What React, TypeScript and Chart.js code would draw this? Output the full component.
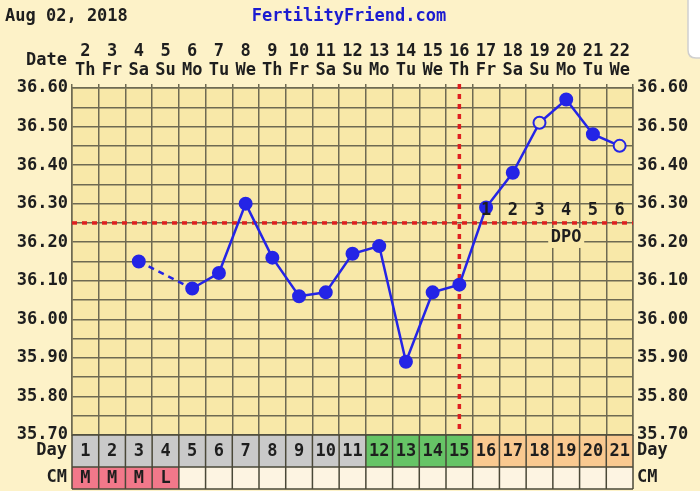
import React, { useEffect, useRef } from 'react';
import { Chart, registerables } from 'chart.js';

Chart.register(...registerables);

// ---------- data ----------
const headerDate = 'Aug 02, 2018';
const headerSite = 'FertilityFriend.com';
const cycleDays = [1, 2, 3, 4, 5, 6, 7, 8, 9, 10, 11, 12, 13, 14, 15, 16, 17, 18, 19, 20, 21];
const dates = ['2', '3', '4', '5', '6', '7', '8', '9', '10', '11', '12', '13', '14', '15', '16', '17', '18', '19', '20', '21', '22'];
const weekdays = ['Th', 'Fr', 'Sa', 'Su', 'Mo', 'Tu', 'We', 'Th', 'Fr', 'Sa', 'Su', 'Mo', 'Tu', 'We', 'Th', 'Fr', 'Sa', 'Su', 'Mo', 'Tu', 'We'];
const temps: (number | null)[] = [
  null, null, 36.15, null, 36.08, 36.12, 36.30, 36.16, 36.06, 36.07, 36.17,
  36.19, 35.89, 36.07, 36.09, 36.29, 36.38, 36.51, 36.57, 36.48, 36.45,
];
const openCircleDays = [18, 21];
const cmValues = ['M', 'M', 'M', 'L', '', '', '', '', '', '', '', '', '', '', '', '', '', '', '', '', ''];
const fertileDays = [12, 13, 14, 15];
const coverline = 36.25;
const ovulationDay = 15;
const yMin = 35.7;
const yMax = 36.6;

// ---------- styles ----------
const PAGE_BG = '#fdf2c8';
const PLOT_BG = '#f8e8a8';
const GRID = '#6e6a52';
const TEXT = '#1e1e1e';
const BLUE = '#2424e6';
const RED = '#dd2020';
const FAMILY = '"DejaVu Sans Mono", "Liberation Mono", monospace';
const FONT = `bold 17px ${FAMILY}`;

const tickCb = (v: any) => {
  const n = Math.round(Number(v) * 100);
  return n % 10 === 0 ? (n / 100).toFixed(2) : '';
};

const decor = {
  id: 'ffDecor',
  beforeDraw(chart: any) {
    const { ctx, chartArea: a, width, height } = chart;
    ctx.save();
    ctx.fillStyle = PAGE_BG;
    ctx.fillRect(0, 0, width, height);
    ctx.fillStyle = PLOT_BG;
    ctx.fillRect(a.left, a.top, a.right - a.left, a.bottom - a.top);
    // top-right white box
    ctx.fillStyle = '#ffffff';
    ctx.strokeStyle = '#cfcfcf';
    ctx.lineWidth = 1.5;
    ctx.beginPath();
    ctx.moveTo(688, -2);
    ctx.lineTo(688, 50);
    ctx.quadraticCurveTo(688, 58, 696, 58);
    ctx.lineTo(702, 58);
    ctx.lineTo(702, -2);
    ctx.closePath();
    ctx.fill();
    ctx.stroke();
    // header
    ctx.font = FONT;
    ctx.textBaseline = 'middle';
    ctx.fillStyle = TEXT;
    ctx.textAlign = 'left';
    ctx.fillText(headerDate, 5, 17);
    ctx.fillStyle = '#1c1cd0';
    ctx.textAlign = 'center';
    ctx.fillText(headerSite, 349, 17);
    ctx.fillStyle = TEXT;
    ctx.textAlign = 'right';
    ctx.fillText('Date', 67, 61);
    ctx.restore();
  },
  beforeDatasetsDraw(chart: any) {
    const { ctx, chartArea: a, scales } = chart;
    const xs = scales.x;
    const ys = scales.y;
    const cy = ys.getPixelForValue(coverline);
    const ox = xs.getPixelForValue(cycleDays.indexOf(ovulationDay));
    ctx.save();
    ctx.strokeStyle = RED;
    ctx.lineWidth = 3.5;
    ctx.setLineDash([5, 5]);
    ctx.beginPath();
    ctx.moveTo(a.left, cy);
    ctx.lineTo(a.right, cy);
    ctx.stroke();
    ctx.beginPath();
    ctx.moveTo(ox, a.top - 4);
    ctx.lineTo(ox, a.bottom);
    ctx.stroke();
    ctx.setLineDash([]);
    ctx.font = FONT;
    ctx.textAlign = 'center';
    ctx.textBaseline = 'middle';
    const dpoX = xs.getPixelForValue(cycleDays.indexOf(ovulationDay + 4));
    ctx.fillStyle = PLOT_BG;
    ctx.fillRect(dpoX - 18, cy + 5, 36, 20);
    ctx.fillStyle = TEXT;
    ctx.fillText('DPO', dpoX, cy + 15);
    ctx.restore();
  },
  afterDatasetsDraw(chart: any) {
    const { ctx, scales } = chart;
    const xs = scales.x;
    const cy = scales.y.getPixelForValue(coverline);
    ctx.save();
    ctx.font = FONT;
    ctx.fillStyle = TEXT;
    ctx.textAlign = 'center';
    ctx.textBaseline = 'middle';
    cycleDays.forEach((d, i) => {
      if (d > ovulationDay) {
        ctx.fillText(String(d - ovulationDay), xs.getPixelForValue(i), cy - 12);
      }
    });
    ctx.restore();
  },
  afterDraw(chart: any) {
    const { ctx, chartArea: a, scales } = chart;
    const xs = scales.x;
    const colW = (a.right - a.left) / cycleDays.length;
    const dayTop = a.bottom;
    const dayBottom = a.bottom + 32;
    const cmBottom = dayBottom + 22;
    ctx.save();
    ctx.font = FONT;
    ctx.textAlign = 'center';
    ctx.textBaseline = 'middle';
    cycleDays.forEach((d, i) => {
      const xc = xs.getPixelForValue(i);
      const x0 = xc - colW / 2;
      let fill = '#c9c9c9';
      if (fertileDays.includes(d)) fill = '#66c466';
      else if (d > ovulationDay) fill = '#f9c990';
      ctx.fillStyle = fill;
      ctx.fillRect(x0, dayTop, colW, dayBottom - dayTop);
      ctx.fillStyle = cmValues[i] ? '#f2788a' : '#fdf4e2';
      ctx.fillRect(x0, dayBottom, colW, cmBottom - dayBottom);
      ctx.fillStyle = TEXT;
      ctx.fillText(String(d), xc, (dayTop + dayBottom) / 2 + 1);
      if (cmValues[i]) ctx.fillText(cmValues[i], xc, (dayBottom + cmBottom) / 2 + 1);
    });
    ctx.strokeStyle = '#4a4838';
    ctx.lineWidth = 1.5;
    ctx.beginPath();
    for (let i = 0; i <= cycleDays.length; i++) {
      const x = a.left + i * colW;
      ctx.moveTo(x, dayTop);
      ctx.lineTo(x, cmBottom);
    }
    [dayTop, dayBottom, cmBottom].forEach((y) => {
      ctx.moveTo(a.left, y);
      ctx.lineTo(a.right, y);
    });
    ctx.stroke();
    ctx.fillStyle = TEXT;
    ctx.textAlign = 'right';
    ctx.fillText('Day', 67, (dayTop + dayBottom) / 2);
    ctx.fillText('CM', 67, (dayBottom + cmBottom) / 2);
    ctx.textAlign = 'left';
    ctx.fillText('Day', 637, (dayTop + dayBottom) / 2);
    ctx.fillText('CM', 637, (dayBottom + cmBottom) / 2);
    ctx.restore();
  },
};

export default function App() {
  const ref = useRef<HTMLCanvasElement>(null);
  useEffect(() => {
    if (!ref.current) return;
    const tickFont = { family: FAMILY, size: 17, weight: 'bold' as const, lineHeight: 1.12 };
    const chart = new Chart(ref.current, {
      type: 'line',
      data: {
        labels: dates.map((d, i) => [d, weekdays[i]]),
        datasets: [
          {
            data: temps,
            xAxisID: 'x',
            yAxisID: 'y',
            borderColor: BLUE,
            borderWidth: 2.5,
            pointRadius: 6,
            pointBorderWidth: 2,
            pointBorderColor: BLUE,
            pointBackgroundColor: cycleDays.map((d) => (openCircleDays.includes(d) ? PLOT_BG : BLUE)),
            spanGaps: true,
            tension: 0,
            segment: {
              borderDash: (c: any) => (c.p0.skip || c.p1.skip ? [6, 5] : undefined),
            },
          } as any,
        ],
      },
      options: {
        responsive: false,
        animation: false,
        events: [],
        layout: { padding: { top: 0, left: 0, right: 0, bottom: 56 } },
        plugins: { legend: { display: false }, tooltip: { enabled: false } },
        scales: {
          x: {
            type: 'category',
            position: 'top',
            offset: true,
            grid: { offset: true, color: GRID, lineWidth: 1.5, tickLength: 4, drawTicks: true },
            border: { color: GRID, width: 1.5 },
            ticks: { color: TEXT, font: tickFont, padding: 4, maxRotation: 0, autoSkip: false },
            afterFit: (s: any) => {
              s.height = 88;
            },
          },
          y: {
            type: 'linear',
            position: 'left',
            min: yMin,
            max: yMax,
            grid: { color: GRID, lineWidth: 1.5, drawTicks: false },
            border: { color: GRID, width: 1.5 },
            ticks: { stepSize: 0.05, callback: tickCb, color: TEXT, font: tickFont, padding: 4, autoSkip: false },
            afterFit: (s: any) => {
              s.width = 72;
            },
          },
          y2: {
            type: 'linear',
            position: 'right',
            min: yMin,
            max: yMax,
            grid: { drawOnChartArea: false, drawTicks: false },
            border: { color: GRID, width: 1.5 },
            ticks: { stepSize: 0.05, callback: tickCb, color: TEXT, font: tickFont, padding: 4, autoSkip: false },
            afterFit: (s: any) => {
              s.width = 67;
            },
          },
        },
      } as any,
      plugins: [decor],
    });
    return () => chart.destroy();
  }, []);
  return (
    <div style={{ position: 'fixed', left: 0, top: 0, width: 700, height: 491 }}>
      <canvas ref={ref} width={700} height={491} style={{ display: 'block' }} />
    </div>
  );
}
